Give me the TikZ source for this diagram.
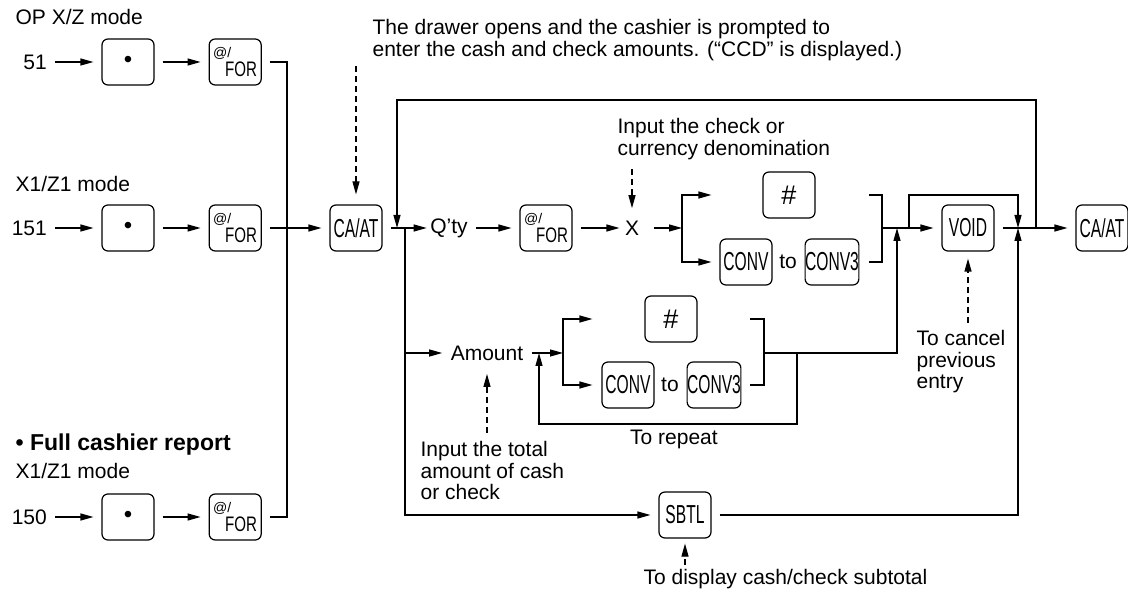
\documentclass[tikz,border=0pt]{standalone}
\usepackage{fontspec}
\setmainfont{Liberation Sans}
\newfontfamily\keyfont[FakeStretch=0.6]{Liberation Sans}
\newfontfamily\forfont[FakeStretch=0.72]{Liberation Sans}
\usetikzlibrary{arrows.meta,positioning}
\newcommand{\atfor}{{\rmfamily\fontsize{14}{14}\selectfont @/}\\[1pt]\hspace*{12pt}FOR}

\begin{document}
\begin{tikzpicture}[x=1pt,y=-1pt,node distance=54pt,line width=1.2pt,>={Triangle[length=13pt,width=7pt]},
  key/.style={draw,rounded corners=6pt,minimum width=52pt,minimum height=46pt,inner sep=0pt,font=\keyfont\fontsize{26}{26}\selectfont},
  dotkey/.style={key,font=\fontsize{24}{24}\selectfont},
  hashkey/.style={key,font=\fontsize{27}{27}\selectfont},
  forkey/.style={key,align=left,font=\forfont\fontsize{21}{18}\selectfont},
  lbl/.style={inner sep=0pt,align=left,font=\fontsize{21}{21.5}\selectfont},
  go/.style={->,shorten <=8pt,shorten >=8pt},
  note/.style={->,dash pattern=on 6pt off 4pt,shorten <=5pt,shorten >=8pt}]
\useasboundingbox (0,0) rectangle (1128,601);
% left: the three report entries
\node[lbl,anchor=base west](m1) at (15,25){OP X/Z mode};
\node[dotkey](d1) at (128,62){•};
\node[forkey,right=of d1](f1){\atfor};
\node[lbl,left=of d1](n51){51};
\node[lbl,anchor=base west](m2) at (15,192){X1/Z1 mode};
\node[dotkey](d2) at (128,228){•};
\node[forkey,right=of d2](f2){\atfor};
\node[lbl,left=of d2](n151){151};
\node[lbl,anchor=base west,font=\bfseries\fontsize{23}{23}\selectfont](m3) at (15,451){• Full cashier report};
\node[lbl,anchor=base west](m4) at (15,479){X1/Z1 mode};
\node[dotkey](d3) at (128,517){•};
\node[forkey,right=of d3](f3){\atfor};
\node[lbl,left=of d3](n150){150};
\draw[go](n51)--(d1);\draw[go](d1)--(f1);
\draw[go](n151)--(d2);\draw[go](d2)--(f2);
\draw[go](n150)--(d3);\draw[go](d3)--(f3);
\coordinate(bus) at (287,228);
\draw([xshift=8pt]f1.east)-|(bus)|-([xshift=8pt]f3.east);
% main line
\node[key](ca1) at (356,228){CA/AT};
\draw[go](f2)--(ca1);
\node[lbl,anchor=north west](ntop) at (372,19){The drawer opens and the cashier is prompted to\\enter the cash and check amounts. (“CCD” is displayed.)};
\draw[note,shorten >=10pt](ca1|-ntop.south)--(ca1);
\coordinate(jl) at (397,228);\coordinate(split) at (405,228);
\node[lbl](qty) at (449,228){Q’ty};
\node[forkey](f4) at (546,228){\atfor};
\node[lbl](x) at (632,228){X};
\draw[->,shorten <=8pt,shorten >=3pt](ca1)--(qty);
\draw[go](qty)--(f4);\draw[go,shorten >=5pt](f4)--(x);
\node[lbl,anchor=north west](nx) at (617,118){Input the check or\\currency denomination};
\draw[note,shorten <=9pt,shorten >=12pt](x|-nx.south)--(x);
\coordinate(b1) at (682,228);
\node[hashkey](hash1) at (789,195){\#};
\node[key](conv1) at (746,262){CONV};
\node[lbl](to1) at (788,262){to};
\node[key](conv3a) at (832,262){CONV3};
\draw[->,shorten <=14pt](x)--(b1);
\draw[->](b1)|-([xshift=-8pt]conv1.west|-hash1);
\draw[->](b1)|-([xshift=-8pt]conv1.west);
\coordinate(r1) at (882,228);
\draw([xshift=10pt]conv3a.east|-hash1)-|(r1)|-([xshift=10pt]conv3a.east);
\coordinate(j2) at (897,228);\coordinate(b2) at (909,228);\coordinate(j3) at (1018,228);
\node[key](void) at (968,228){VOID};
\node[key](ca2) at (1102,228){CA/AT};
\draw[->,shorten >=8pt](r1)--(void);
\draw[->](b2)|-(hash1-|j3)--(j3);
\draw[go](void)--(ca2);
\coordinate(top) at (1036,100);
\draw[->](void-|top)--(top)-|(jl);
\node[lbl,anchor=north west](nvoid) at (916,330){To cancel\\previous\\entry};
\draw[note,shorten <=7pt,shorten >=7pt](void|-nvoid.north)--(void);
% amount line
\node[lbl](amt) at (487,353){Amount};
\coordinate(j4) at (539,353);\coordinate(b3) at (563,353);
\draw[->,shorten >=8pt](split|-amt)--(amt);
\draw[->,shorten <=8pt](amt)--(b3);
\node[hashkey](hash2) at (671,319){\#};
\node[key](conv2) at (628,385){CONV};
\node[lbl](to2) at (670,385){to};
\node[key](conv3b) at (714,385){CONV3};
\draw[->](b3)|-([xshift=-9pt]conv2.west|-hash2);
\draw[->](b3)|-([xshift=-9pt]conv2.west);
\coordinate(r2) at (764,353);
\draw([xshift=9pt]conv3b.east|-hash2)-|(r2)|-([xshift=9pt]conv3b.east);
\draw[->](r2)-|(j2);
\coordinate(rp) at (797,353);\coordinate(rpb) at (797,424);
\draw[->](rp)--(rpb)-|(j4);
\node[lbl,anchor=north](rep) at (674,429){To repeat};
\node[lbl,anchor=north west](namt) at (420,441){Input the total\\amount of cash\\or check};
\draw[note,shorten <=8pt,shorten >=13pt](amt|-namt.north)--(amt);
% subtotal line
\node[key](sbtl) at (685,515){SBTL};
\draw[->,shorten >=8pt](split)|-(sbtl);
\draw[->]([xshift=8pt]sbtl.east)-|(j3);
\node[lbl,anchor=north west](nsbtl) at (643,569){To display cash/check subtotal};
\draw[note,shorten <=4pt,shorten >=5pt](sbtl|-nsbtl.north)--(sbtl);
\end{tikzpicture}
\end{document}
